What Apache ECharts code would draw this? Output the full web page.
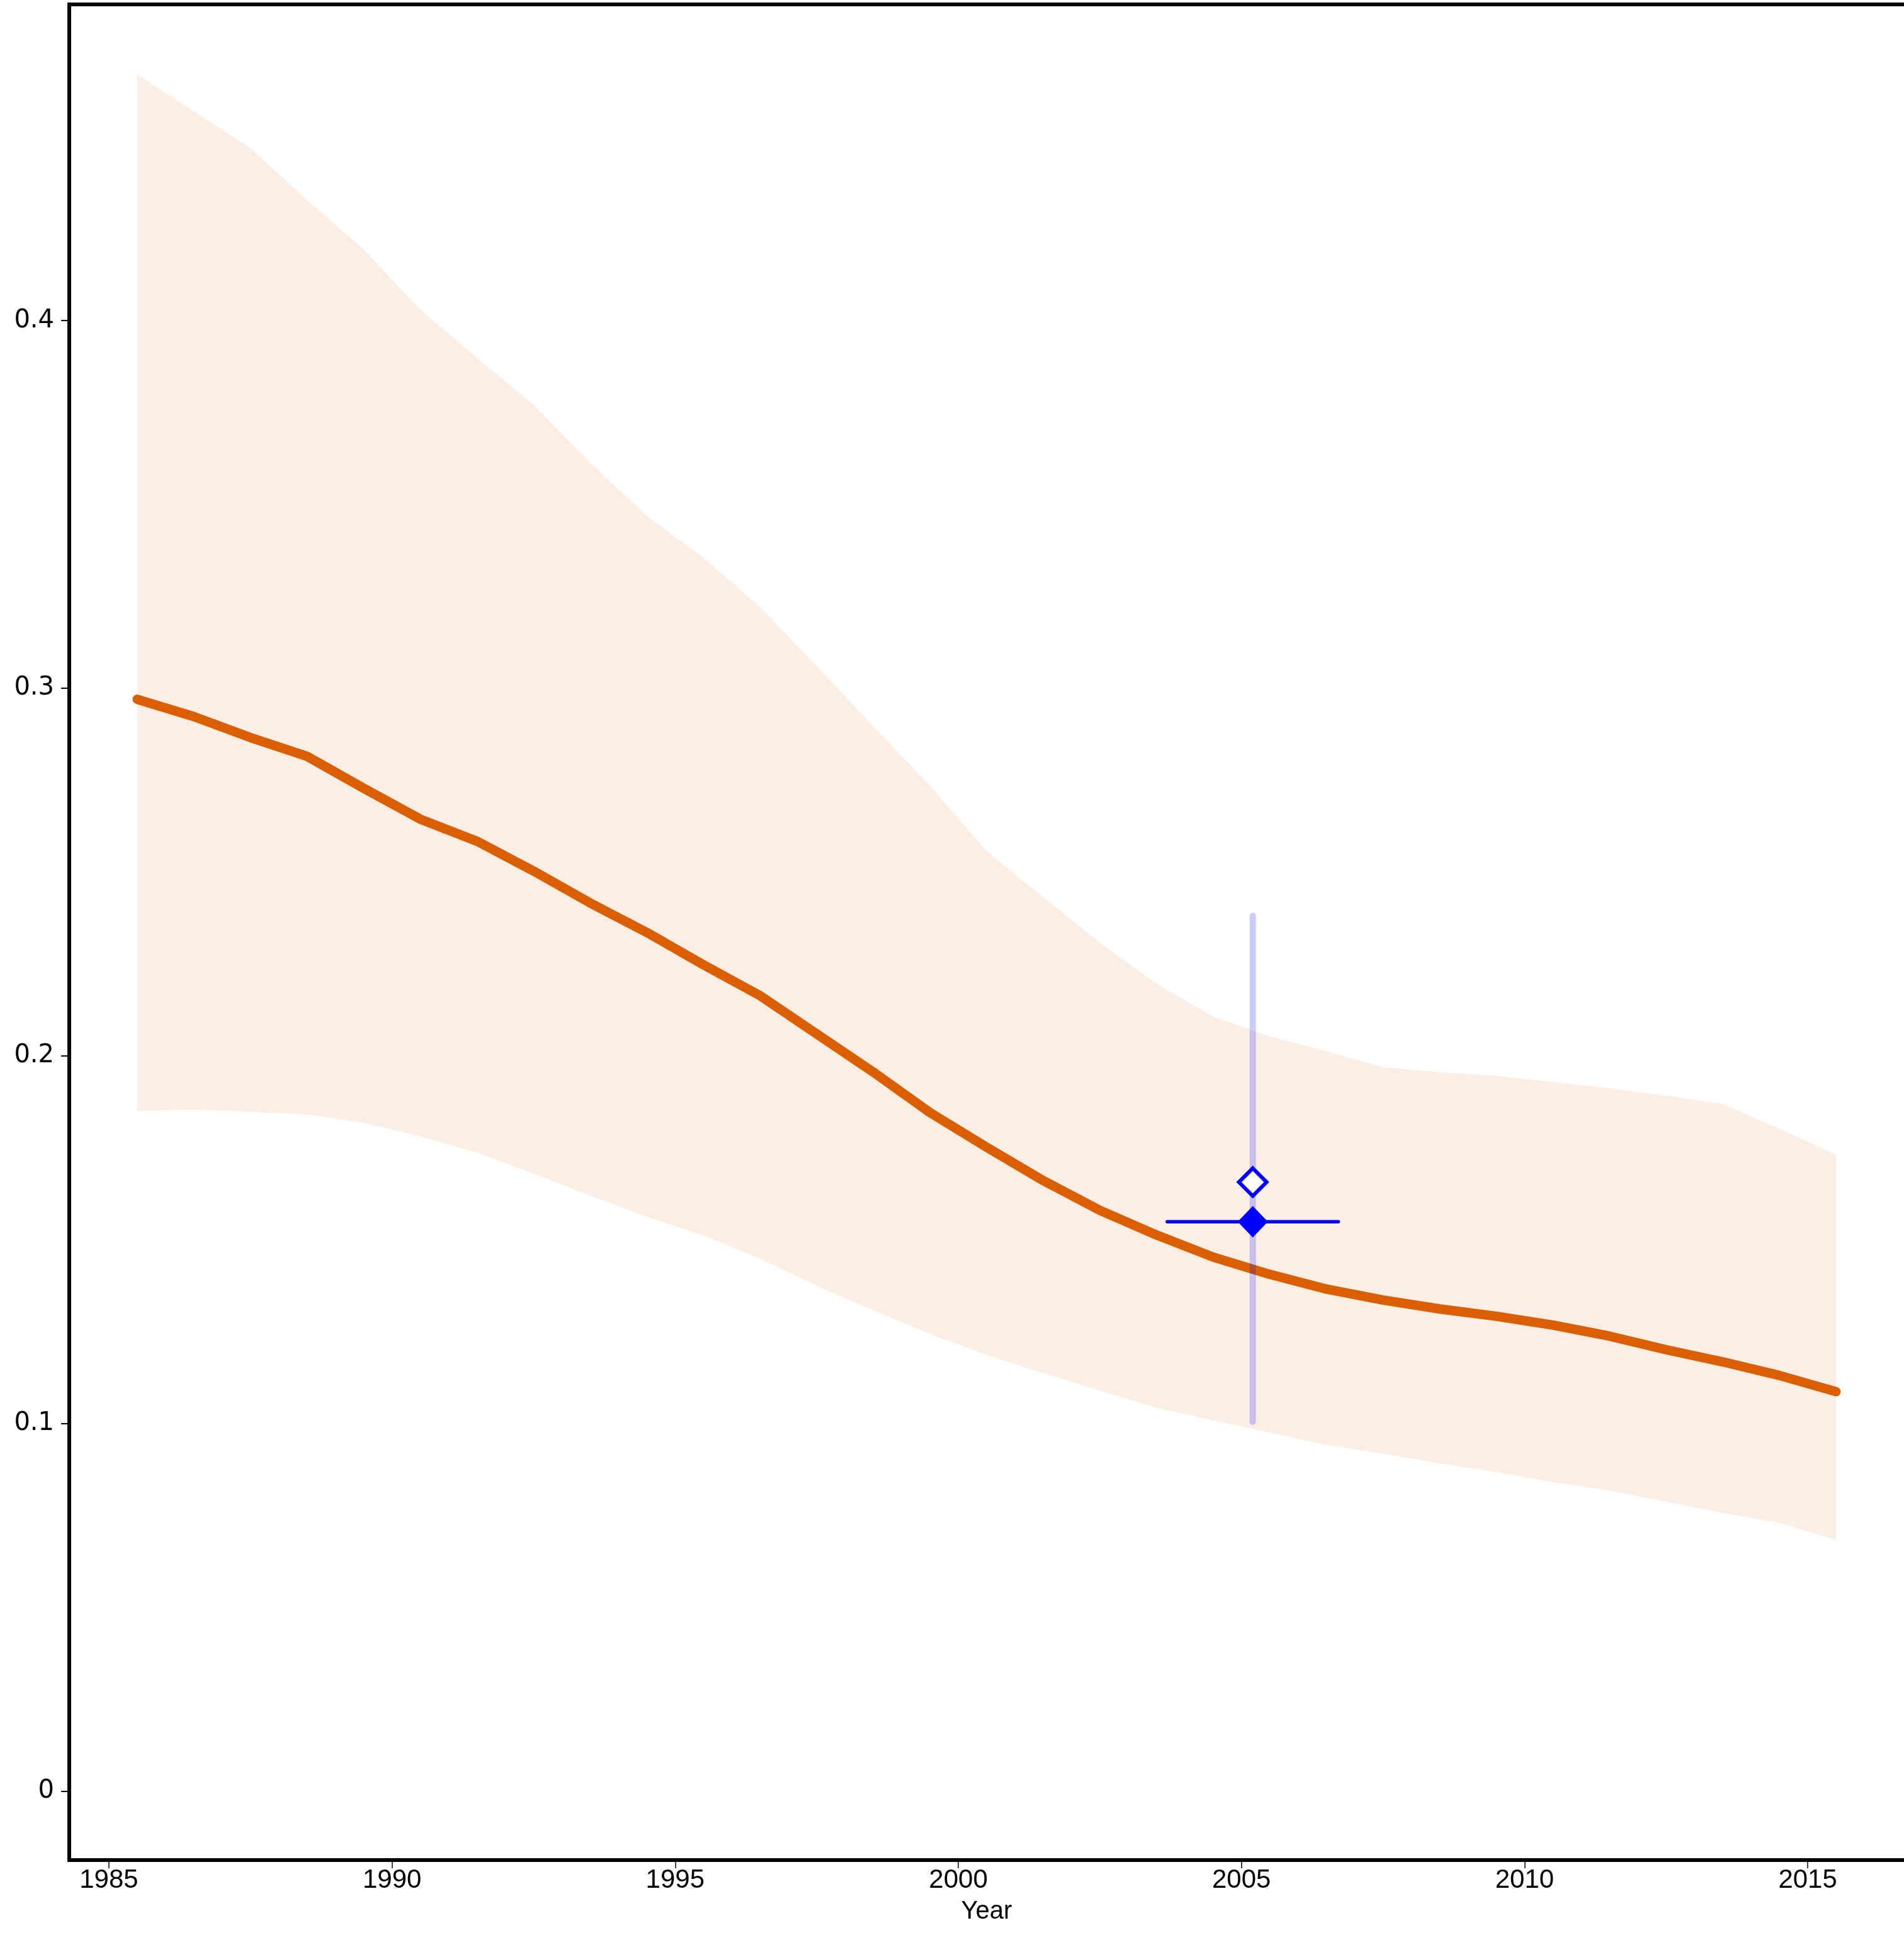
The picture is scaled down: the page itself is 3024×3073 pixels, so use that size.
<!DOCTYPE html>
<html>
<head>
<meta charset="utf-8">
<script src="https://cdn.jsdelivr.net/npm/echarts@6.0.0/dist/echarts.min.js"></script>
<style>html,body{margin:0;padding:0;background:#fff;}#c{width:3024px;height:3073px;}</style>
</head>
<body>
<div id="c"></div>
<script>
// ---- data ----
var years = [1985.5,1986.5,1987.5,1988.5,1989.5,1990.5,1991.5,1992.5,1993.5,1994.5,1995.5,1996.5,1997.5,1998.5,1999.5,2000.5,2001.5,2002.5,2003.5,2004.5,2005.5,2006.5,2007.5,2008.5,2009.5,2010.5,2011.5,2012.5,2013.5,2014.5,2015.5];
var estimate = [0.297,0.2923,0.2866,0.2815,0.2728,0.2644,0.2584,0.2503,0.2416,0.2336,0.2248,0.2164,0.206,0.1956,0.1846,0.1752,0.1661,0.158,0.1513,0.1453,0.1406,0.1366,0.1336,0.1312,0.1292,0.1268,0.1238,0.1201,0.1168,0.1131,0.1087];
var upper = [0.467,0.4569,0.4469,0.4328,0.4194,0.403,0.3899,0.3771,0.3613,0.3469,0.3355,0.3221,0.306,0.2896,0.2735,0.2557,0.2432,0.2308,0.2197,0.2107,0.2053,0.2013,0.1969,0.1956,0.1946,0.1929,0.1912,0.1892,0.1869,0.1802,0.1731];
var lower = [0.1851,0.1855,0.1848,0.1841,0.1818,0.1781,0.1737,0.168,0.162,0.1563,0.1512,0.1449,0.1375,0.1308,0.1244,0.1187,0.1137,0.109,0.1043,0.1009,0.0976,0.0942,0.0918,0.0892,0.0868,0.0841,0.0818,0.0788,0.0757,0.073,0.0684];
var surveyYear = 2005.2;
var surveyYearRange = [2003.69, 2006.71];
var surveyValue = 0.1549;
var surveyValueRange = [0.1005, 0.2381];
var surveyAdjusted = 0.1657;
var xTicks = [1985,1990,1995,2000,2005,2010,2015];
var yTicks = [0,0.1,0.2,0.3,0.4];

var chart = echarts.init(document.getElementById('c'), null, {renderer:'canvas'});

var linePts = years.map(function(y,i){return [y, estimate[i]];});
var bandData = years.map(function(y,i){return [y, lower[i], upper[i]];});

var option = {
  backgroundColor:'#ffffff',
  animation:false,
  grid:{left:110, top:7, width:2927, bottom:119, containLabel:false},
  xAxis:[{
    type:'value', min:1984.3, max:2016.7,
    name:'Year', nameLocation:'middle', nameGap:62,
    nameTextStyle:{fontFamily:'Liberation Sans', fontSize:40, color:'#000'},
    axisLine:{show:true, onZero:false, lineStyle:{color:'#000', width:6, cap:'square'}},
    axisTick:{show:true, length:13, lineStyle:{color:'#000', width:1.5}, customValues:xTicks},
    axisLabel:{show:true, margin:11, fontFamily:'Liberation Sans', fontSize:42, color:'#000', customValues:xTicks,
      formatter:function(v){return String(Math.round(v));}},
    splitLine:{show:false}
  },{
    type:'value', position:'top', min:1984.3, max:2016.7,
    axisLine:{show:true, onZero:false, lineStyle:{color:'#000', width:6, cap:'square'}},
    axisTick:{show:false}, axisLabel:{show:false}, splitLine:{show:false}
  }],
  yAxis:{
    type:'value', min:-0.0187, max:0.486,
    axisLine:{show:true, onZero:false, lineStyle:{color:'#000', width:6, cap:'square'}},
    axisTick:{show:true, length:13, lineStyle:{color:'#000', width:2}, customValues:yTicks},
    axisLabel:{show:true, margin:24, fontFamily:'DejaVu Sans', fontSize:40, color:'#000', customValues:yTicks,
      formatter:function(v){return String(Math.round(v*10)/10);}},
    splitLine:{show:false}
  },
  series:[
    {
      type:'custom', z:1, silent:true,
      data: bandData,
      encode:{x:0, y:[1,2]},
      renderItem:function(params, api){
        if (params.dataIndex !== 0) return null;
        var pts = [];
        for (var i=0;i<years.length;i++) pts.push(api.coord([years[i], upper[i]]));
        for (var j=years.length-1;j>=0;j--) pts.push(api.coord([years[j], lower[j]]));
        return {type:'polygon', shape:{points:pts}, style:{fill:'rgba(217,95,2,0.1)'}};
      }
    },
    {
      type:'line', z:2, data:linePts, symbol:'none', silent:true,
      lineStyle:{color:'#D95F02', width:15, cap:'round', join:'round'}
    },
    {
      type:'line', z:3, symbol:'none', silent:true,
      data:[[surveyYear, surveyValueRange[0]],[surveyYear, surveyValueRange[1]]],
      lineStyle:{color:'rgba(0,0,255,0.2)', width:10, cap:'round'}
    },
    {
      type:'line', z:4, symbol:'none', silent:true,
      data:[[surveyYearRange[0], surveyValue],[surveyYearRange[1], surveyValue]],
      lineStyle:{color:'#0000FF', width:5.5, cap:'round'}
    },
    {
      type:'scatter', z:5, silent:true,
      data:[[surveyYear, surveyValue]],
      symbol:'diamond', symbolSize:[48,50],
      itemStyle:{color:'#0000FF', opacity:1}
    },
    {
      type:'scatter', z:5, silent:true,
      data:[[surveyYear, surveyAdjusted]],
      symbol:'diamond', symbolSize:[44,44],
      itemStyle:{color:'#ffffff', borderColor:'#0000FF', borderWidth:6, opacity:1}
    }
  ]
};
chart.setOption(option);
</script>
</body>
</html>
